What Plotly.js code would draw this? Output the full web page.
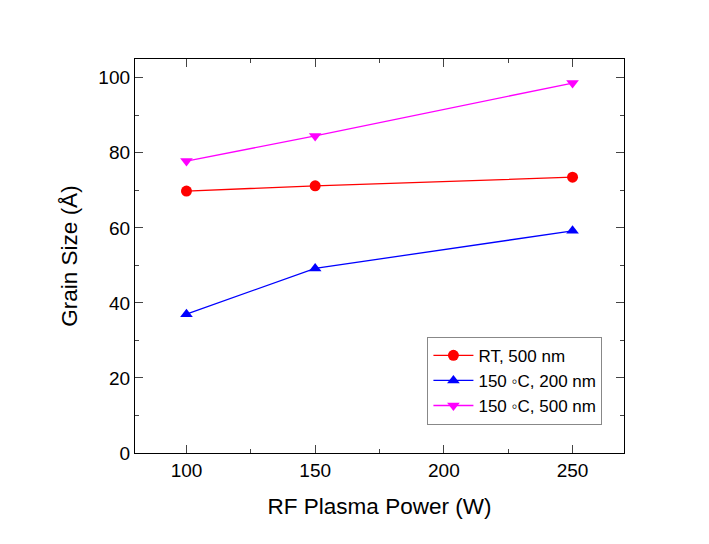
<!DOCTYPE html>
<html><head><meta charset="utf-8">
<script src="https://cdn.plot.ly/plotly-3.0.1.min.js"></script>
<style>html,body{margin:0;padding:0;background:#fff}</style>
</head><body><div id="chart" style="width:709px;height:544px"></div>
<script>
const power = [100, 150, 250];
const rt500 = [69.8, 71.2, 73.5];
const c150_200 = [37.0, 49.2, 59.2];
const c150_500 = [77.8, 84.5, 98.6];
const names = ["RT, 500 nm", "150 \u25E6C, 200 nm", "150 \u25E6C, 500 nm"];
const xTicks = [100, 150, 200, 250];
const yTicks = [0, 20, 40, 60, 80, 100];

const mk = (y, name, color, symbol) => ({
  x: power, y: y, name: name, type: 'scatter', mode: 'lines+markers',
  line: {color: color, width: 1.3},
  marker: {color: color, symbol: symbol, size: 11}
});
const data = [
  mk(rt500, names[0], '#ff0000', 'circle'),
  mk(c150_200, names[1], '#0000ff', 'triangle-up'),
  mk(c150_500, names[2], '#ff00ff', 'triangle-down')
];
const font = {family: 'Liberation Sans, Arial, sans-serif', color: '#000'};
const layout = {
  width: 709, height: 544,
  margin: {l: 135, r: 85, t: 59, b: 91},
  paper_bgcolor: '#fff', plot_bgcolor: '#fff',
  font: font,
  showlegend: true,
  legend: {x: 0.598, y: 0.295, xanchor: 'left', yanchor: 'top',
    bordercolor: '#888', borderwidth: 1, bgcolor: '#fff',
    font: {family: font.family, size: 17, color: '#000'},
    tracegroupgap: 0, itemwidth: 40},
  xaxis: {
    range: [80, 270], tickvals: xTicks, ticks: 'inside', ticklen: 8, tickwidth: 1.2,
    showline: true, linecolor: '#000', linewidth: 1.3, mirror: 'allticks',
    showgrid: false, zeroline: false,
    tickfont: {family: font.family, size: 19, color: '#000'},
    minor: {ticks: 'inside', dtick: 25, tick0: 0, ticklen: 4, tickwidth: 1, showgrid: false},
    title: {text: 'RF Plasma Power (W)', font: {family: font.family, size: 22.5, color: '#000'}, standoff: 18}
  },
  yaxis: {
    range: [0, 105], tickvals: yTicks, ticks: 'inside', ticklen: 8, tickwidth: 1.2,
    showline: true, linecolor: '#000', linewidth: 1.3, mirror: 'allticks',
    showgrid: false, zeroline: false,
    tickfont: {family: font.family, size: 19, color: '#000'},
    minor: {ticks: 'inside', dtick: 10, tick0: 0, ticklen: 4, tickwidth: 1, showgrid: false},
    title: {text: 'Grain Size (\u00C5)', font: {family: font.family, size: 22.5, color: '#000'}, standoff: 14}
  }
};
Plotly.newPlot('chart', data, layout, {displayModeBar: false});
</script></body></html>
